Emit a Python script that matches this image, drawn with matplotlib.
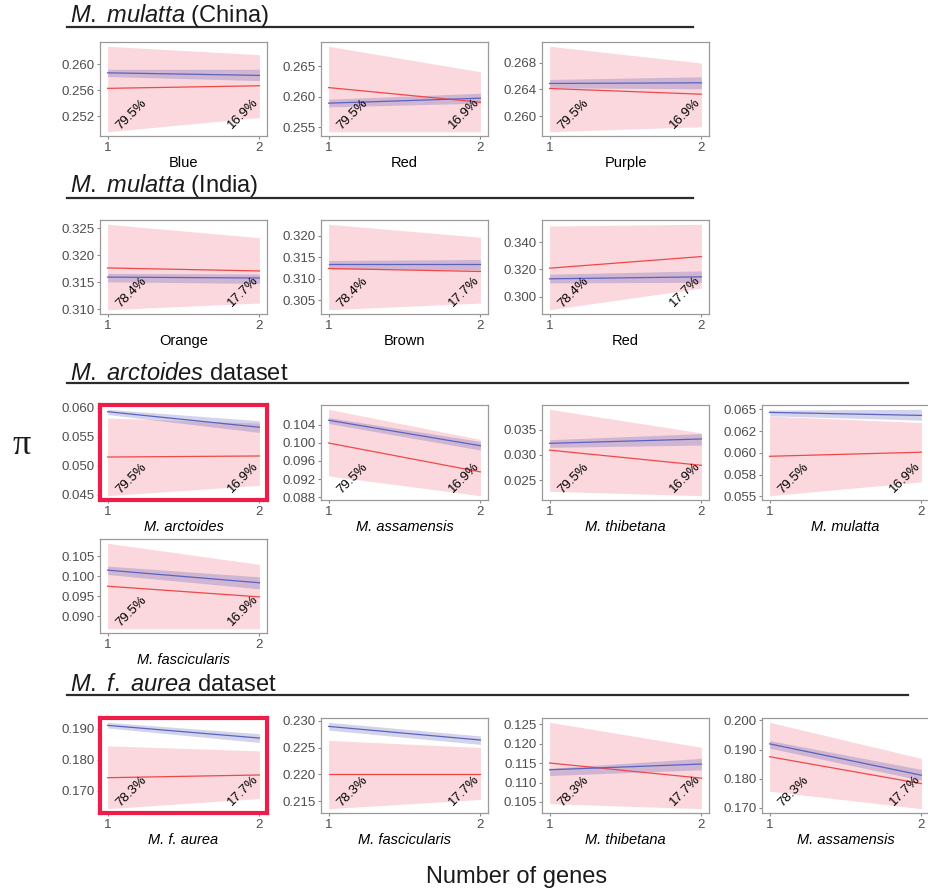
import numpy as np
import matplotlib
matplotlib.use("Agg")
import matplotlib.pyplot as plt
from matplotlib.lines import Line2D

plt.rcParams['font.family'] = ['Liberation Sans', 'DejaVu Sans']
plt.rcParams['mathtext.fontset'] = 'custom'
plt.rcParams['mathtext.rm'] = 'Liberation Sans'
plt.rcParams['mathtext.it'] = 'Liberation Sans:italic'

# panel order: row by row, left to right
panel_labels = ['Blue', 'Red', 'Purple',
                'Orange', 'Brown', 'Red',
                'M. arctoides', 'M. assamensis', 'M. thibetana', 'M. mulatta',
                'M. fascicularis',
                'M. f. aurea', 'M. fascicularis', 'M. thibetana', 'M. assamensis']
italic_label = [False] * 6 + [True] * 9
row_of_panel = [0, 0, 0, 1, 1, 1, 2, 2, 2, 2, 3, 4, 4, 4, 4]
col_of_panel = [0, 1, 2, 0, 1, 2, 0, 1, 2, 3, 0, 0, 1, 2, 3]
highlighted = [6, 11]

# number of genes
genes = [1, 2]

# observed pi (blue) with its interval, values at 1 and 2 genes
blue_mean = [(0.2587, 0.2583), (0.25892, 0.25974), (0.26491, 0.26501),
             (0.31594, 0.31577), (0.31329, 0.31329), (0.31309, 0.31456),
             (0.05929, 0.05661), (0.10494, 0.09934), (0.03228, 0.03314), (0.06465, 0.0643),
             (0.1015, 0.09835),
             (0.19107, 0.18698), (0.22894, 0.2264), (0.11327, 0.11474), (0.19194, 0.18121)]
blue_lo = [(0.25813, 0.2575), (0.25831, 0.25892), (0.26426, 0.26411),
           (0.31506, 0.31476), (0.31227, 0.31203), (0.3101, 0.31044),
           (0.0588, 0.05571), (0.10422, 0.09838), (0.03148, 0.03194), (0.06426, 0.06375),
           (0.10042, 0.09685),
           (0.19022, 0.18557), (0.22824, 0.22559), (0.11178, 0.11327), (0.19045, 0.17948)]
blue_hi = [(0.25925, 0.25925), (0.25957, 0.26056), (0.26551, 0.26592),
           (0.31663, 0.31652), (0.31423, 0.31446), (0.31654, 0.31897),
           (0.0597, 0.05773), (0.10553, 0.10028), (0.0330, 0.0342), (0.06492, 0.065),
           (0.1025, 0.09983),
           (0.19205, 0.18838), (0.2297, 0.22716), (0.11366, 0.1162), (0.19308, 0.18318)]

# simulated pi (red) with its interval
red_mean = [(0.2563, 0.2567), (0.26148, 0.25908), (0.26415, 0.26329),
            (0.31764, 0.31708), (0.31236, 0.31166), (0.32096, 0.32956),
            (0.05148, 0.05166), (0.09993, 0.09359), (0.03094, 0.02794), (0.0596, 0.06007),
            (0.0975, 0.09485),
            (0.17422, 0.1751), (0.2200, 0.2200), (0.1150, 0.11112), (0.18754, 0.17833)]
red_lo = [(0.2496, 0.2518), (0.25423, 0.25423), (0.25763, 0.25839),
          (0.30988, 0.31112), (0.30275, 0.3043), (0.29022, 0.30618),
          (0.04482, 0.04661), (0.0927, 0.08836), (0.0228, 0.02194), (0.05507, 0.05665),
          (0.08693, 0.08693),
          (0.16425, 0.16753), (0.21361, 0.21532), (0.10457, 0.10328), (0.17574, 0.16976)]
red_hi = [(0.2628, 0.2615), (0.26827, 0.26408), (0.27052, 0.268),
          (0.32575, 0.32326), (0.32266, 0.31964), (0.3522, 0.35345),
          (0.05821, 0.05732), (0.10734, 0.10072), (0.0390, 0.03434), (0.06422, 0.06348),
          (0.10818, 0.10293),
          (0.18448, 0.18286), (0.22634, 0.225), (0.12545, 0.11904), (0.19931, 0.18699)]

y_ticks = [[0.252, 0.256, 0.260], [0.255, 0.260, 0.265], [0.260, 0.264, 0.268],
           [0.310, 0.315, 0.320, 0.325], [0.305, 0.310, 0.315, 0.320], [0.300, 0.320, 0.340],
           [0.045, 0.050, 0.055, 0.060], [0.088, 0.092, 0.096, 0.100, 0.104],
           [0.025, 0.030, 0.035], [0.055, 0.0575, 0.060, 0.0625, 0.065],
           [0.090, 0.095, 0.100, 0.105],
           [0.170, 0.180, 0.190], [0.215, 0.220, 0.225, 0.230],
           [0.105, 0.110, 0.115, 0.120, 0.125], [0.170, 0.180, 0.190, 0.200]]
mulatta_tick_labels = ['0.055', '0.058', '0.060', '0.062', '0.065']

# percentage of genes per row (1 gene, 2 genes)
row_pct = [('79.5%', '16.9%'), ('78.4%', '17.7%'), ('79.5%', '16.9%'),
           ('79.5%', '16.9%'), ('78.3%', '17.7%')]

# section headers
section_titles = [r'$\mathit{M.\ mulatta}$ (China)', r'$\mathit{M.\ mulatta}$ (India)',
                  r'$\mathit{M.\ arctoides}$ dataset', r'$\mathit{M.\ f.\ aurea}$ dataset']

W, H = 929, 892
fig = plt.figure(figsize=(W / 100, H / 100), dpi=100)

col_left = [100, 321, 542, 762]
panel_w = 167
row_span = [(42, 136), (220, 314), (405, 500), (539, 633), (718, 813)]

header_y = [22, 192, 380, 691]
header_line = [(27, 693), (198, 693), (383, 908), (695, 908)]

for txt, ty, (ly, lx1) in zip(section_titles, header_y, header_line):
    fig.text(70 / W, 1 - ty / H, txt, fontsize=17, color='#1a1a1a', va='baseline', ha='left')
    fig.add_artist(Line2D([67 / W, lx1 / W], [1 - ly / H, 1 - ly / H],
                          color='#2b2b2b', lw=1.6, transform=fig.transFigure))

for i in range(len(panel_labels)):
    r, c = row_of_panel[i], col_of_panel[i]
    top, bottom = row_span[r]
    ax = fig.add_axes([col_left[c] / W, 1 - bottom / H, panel_w / W, (bottom - top) / H])

    ax.fill_between(genes, red_lo[i], red_hi[i], color='#f08090', alpha=0.3, lw=0)
    ax.fill_between(genes, blue_lo[i], blue_hi[i], color='#5050b0', alpha=0.25, lw=0)
    ax.plot(genes, red_mean[i], color='#f04848', lw=0.9)
    ax.plot(genes, blue_mean[i], color='#5a64c0', lw=0.9)

    lo = min(min(red_lo[i]), min(blue_lo[i]))
    hi = max(max(red_hi[i]), max(blue_hi[i]))
    pad = 0.05 * (hi - lo)
    ax.set_ylim(lo - pad, hi + pad)
    ax.set_xlim(0.95, 2.05)

    ax.set_xticks(genes)
    ax.set_xticklabels(['1', '2'])
    ax.set_yticks(y_ticks[i])
    if i == 9:
        ax.set_yticklabels(mulatta_tick_labels)
    else:
        ax.set_yticklabels(['%.3f' % v for v in y_ticks[i]])
    ax.tick_params(direction='out', length=2.5, width=0.8, color='#8a8a8a',
                   labelsize=9.5, labelcolor='#4d4d4d', pad=1.5)

    for sp in ax.spines.values():
        sp.set_color('#9a9a9a')
        sp.set_linewidth(0.9)
    if i in highlighted:
        for sp in ax.spines.values():
            sp.set_color('#ee1c48')
            sp.set_linewidth(3.0)

    ax.set_xlabel(panel_labels[i], fontsize=10.5, color='black', labelpad=2,
                  fontstyle='italic' if italic_label[i] else 'normal')

    left_pct, right_pct = row_pct[r]
    trans = ax.get_xaxis_transform()
    ax.text(1.04, 0.04, left_pct, transform=trans, rotation=45, fontsize=9.5,
            ha='left', va='bottom', color='black')
    ax.text(2.01, 0.05, right_pct, transform=trans, rotation=45, fontsize=9.5,
            ha='right', va='bottom', color='black')

fig.text(22 / W, 1 - 446 / H, 'π', fontsize=26, family=['Liberation Serif', 'DejaVu Serif'],
         ha='center', va='center', color='#1a1a1a')
fig.text(517 / W, 1 - 877 / H, 'Number of genes', fontsize=17, ha='center', va='center',
         color='#1a1a1a')

fig.savefig('out.png', dpi=100)
